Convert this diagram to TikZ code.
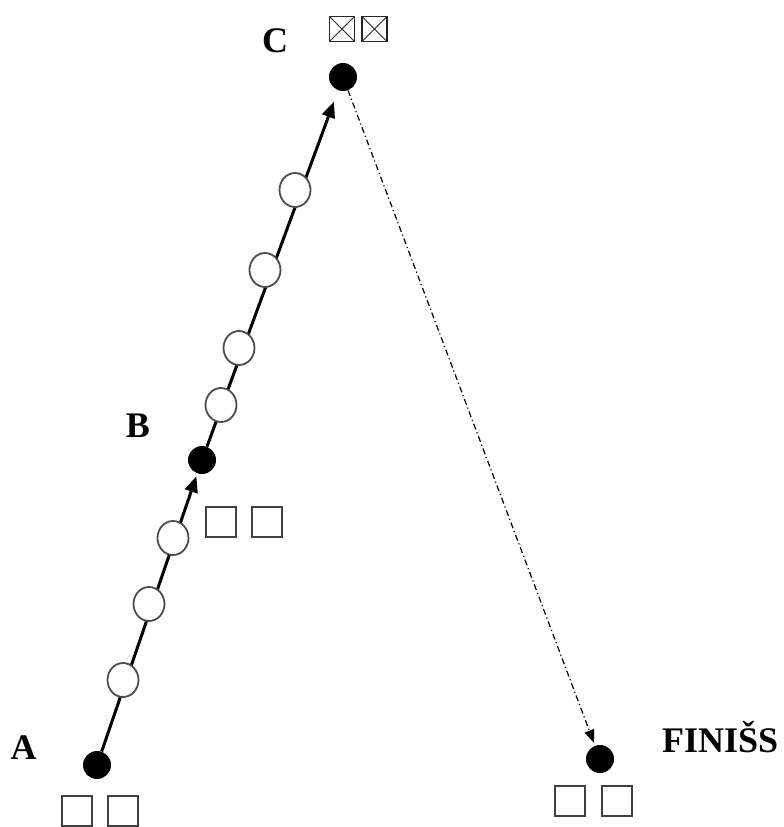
\documentclass[tikz,border=0pt]{standalone}
\usepackage{fontspec}
\setmainfont{Liberation Serif}
\usetikzlibrary{arrows.meta,shapes.geometric}
\tikzset{
  dot/.style={circle,fill=black,inner sep=0pt,minimum size=28pt},
  hollow/.style={ellipse,draw=black!70,line width=1.8pt,fill=white,inner sep=0pt,minimum width=31pt,minimum height=34pt},
  sq/.style={rectangle,draw=black!75,line width=1.8pt,inner sep=0pt,minimum size=30pt},
  xbox/.style={rectangle,draw=black!85,line width=1.6pt,inner sep=0pt,minimum size=25pt,
    path picture={\draw[line width=0.8pt,black!85] (path picture bounding box.north west) -- (path picture bounding box.south east)
      (path picture bounding box.north east) -- (path picture bounding box.south west);}},
  lbl/.style={font=\fontsize{36}{36}\selectfont\bfseries,inner sep=0pt,anchor=base},
  arr/.style={line width=3pt,-{Stealth[inset=0pt,length=16pt,width=13pt]}},
  dasharr/.style={line width=1.2pt,dash pattern=on 6pt off 3pt on 1.2pt off 3pt,-{Stealth[inset=0pt,length=13pt,width=10pt]}}
}
\begin{document}
\begin{tikzpicture}[x=1pt,y=-1pt]
\useasboundingbox (0,0) rectangle (784,827);
% main points
\node[dot] (A) at (97,765) {};
\node[dot] (B) at (202,460) {};
\node[dot] (C) at (343,77) {};
\node[dot] (F) at (600,759) {};
% connectors
\draw[arr,shorten >=3pt] (A) -- (B);
\draw[arr,shorten >=12pt] (B) -- (C);
\draw[dasharr,shorten >=3pt] (C) -- (F);
% hollow circles
\node[hollow] (o1) at (123,680) {};
\node[hollow] (o2) at (149,604) {};
\node[hollow] (o3) at (173,538) {};
\node[hollow] (o4) at (221,405) {};
\node[hollow] (o5) at (239,348) {};
\node[hollow] (o6) at (265,270) {};
\node[hollow] (o7) at (295,190) {};
% labels
\node[lbl] (lA) at (23.5,759) {A};
\node[lbl] (lB) at (138,437) {B};
\node[lbl] (lC) at (275,52) {C};
\node[lbl,anchor=base west] (lF) at (662,752) {FINIŠS};
% squares
\node[sq] (sA1) at (77,811) {};
\node[sq] (sA2) at (123,811) {};
\node[sq] (sB1) at (221,522) {};
\node[sq] (sB2) at (267,522) {};
\node[sq] (sF1) at (570,801) {};
\node[sq] (sF2) at (617,801) {};
\node[xbox] (xC1) at (342,29) {};
\node[xbox] (xC2) at (374.5,29) {};
\end{tikzpicture}
\end{document}
